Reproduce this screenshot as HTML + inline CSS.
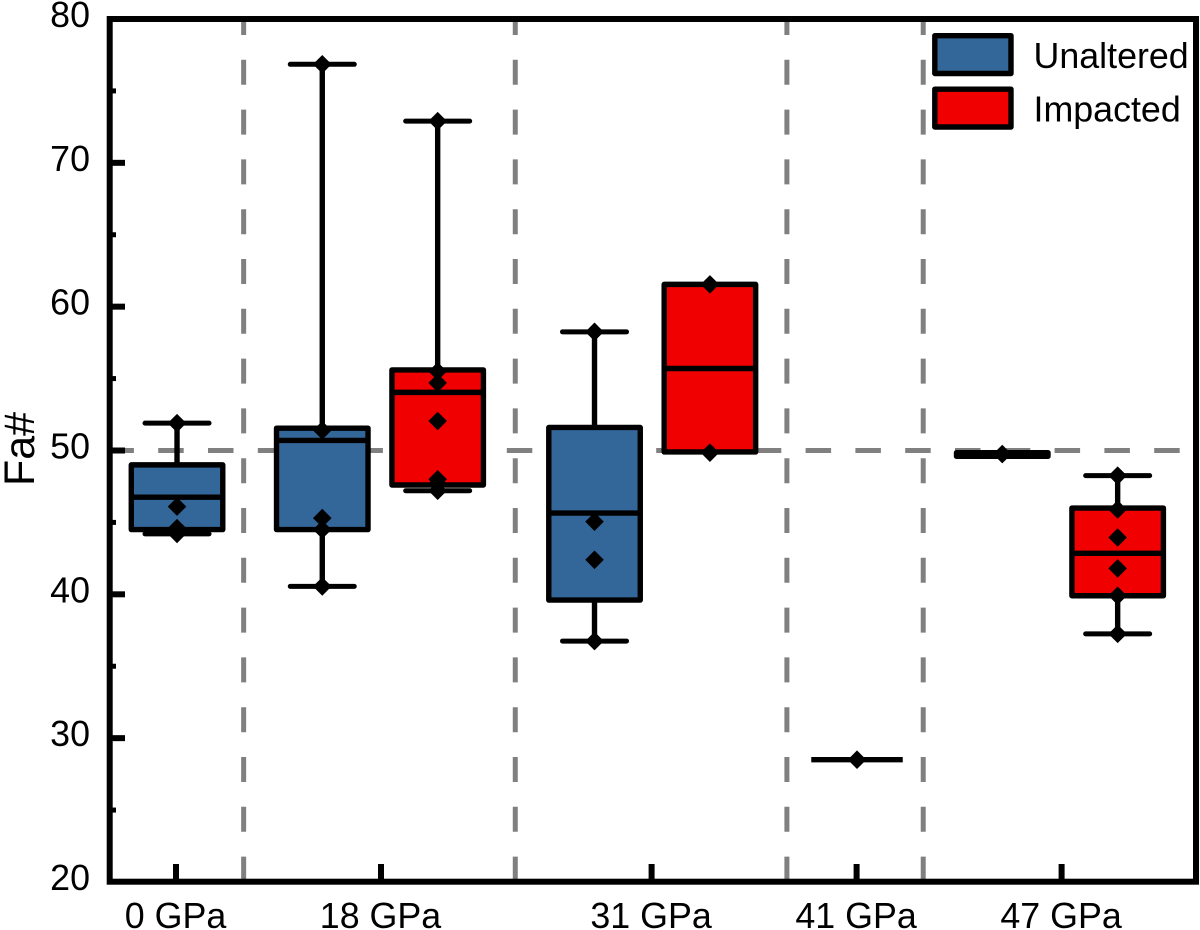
<!DOCTYPE html>
<html lang="en">
<head>
<meta charset="utf-8">
<title>Fa# by shock pressure</title>
<style>
html,body{margin:0;padding:0;background:#fff;}
svg{display:block;}
text{font-family:"Liberation Sans",Arial,sans-serif;fill:#000;}
</style>
</head>
<body>
<svg id="chart" xmlns="http://www.w3.org/2000/svg" width="1200" height="930" viewBox="0 0 1200 930"></svg>
<script>
// Categories and axis values
const categories = ['0 GPa', '18 GPa', '31 GPa', '41 GPa', '47 GPa'];
const categoryAxisValues = [1, 2, 3.32, 4.32, 5.32];
const boxCenterAxisValues = [1.005, 1.995, 3.323, 4.322, 5.312];
const separatorAxisValues = [1.33, 2.655, 3.98, 4.645];
const yTickLabels = [20, 30, 40, 50, 60, 70, 80];
const yMinorTicks = [25, 35, 45, 55, 65, 75];
const referenceLevel = 50;

// Unaltered series, one entry per category
const unalteredQ1 = [44.5, 44.5, 39.6, 28.5, 49.6];
const unalteredMedian = [46.75, 50.7, 45.65, 28.5, 49.7];
const unalteredQ3 = [49.0, 51.55, 51.6, 28.5, 49.85];
const unalteredLow = [44.2, 40.55, 36.75, 28.5, 49.6];
const unalteredHigh = [51.9, 76.85, 58.25, 28.5, 49.85];
const unalteredPoints = [
  [51.9, 46.1, 44.6, 44.2],
  [76.85, 51.4, 45.3, 44.5, 40.55],
  [58.25, 45.05, 42.4, 36.75],
  [28.5],
  [49.75]
];

// Impacted series; null where a category has no impacted samples
const impactedQ1 = [null, 47.6, 49.9, null, 39.9];
const impactedMedian = [null, 54.04, 55.7, null, 42.85];
const impactedQ3 = [null, 55.6, 61.55, null, 46.0];
const impactedLow = [null, 47.2, 49.9, null, 37.25];
const impactedHigh = [null, 72.9, 61.55, null, 48.25];
const impactedPoints = [
  null,
  [72.9, 55.5, 54.7, 52.05, 48.0, 47.7, 47.2],
  [61.55, 49.85],
  null,
  [48.25, 45.9, 43.95, 41.8, 39.9, 37.25]
];

const seriesNames = ['Unaltered', 'Impacted'];
const seriesColors = ['#336699', '#f00000'];

// Axis functions
const yScale = v => 19 + (80 - v) * 14.383;
const xScale = v => 176 + (v - 1) * 205;

const NS = 'http://www.w3.org/2000/svg';
const svg = document.getElementById('chart');
const LEFT = 109.7, RIGHT = 1196, TOP = 19, BOTTOM = 881.7;
const BOX_W = 91.5, CAP_W = 64, OFFSET = 57.7, FONT = 35.8, STROKE = 5.4;

function make(tag, attrs, parent) {
  const el = document.createElementNS(NS, tag);
  for (const k in attrs) el.setAttribute(k, attrs[k]);
  (parent || svg).appendChild(el);
  return el;
}
function line(x1, y1, x2, y2, stroke, width, parent, cap) {
  return make('line', {x1, y1, x2, y2, stroke, 'stroke-width': width, 'stroke-linecap': cap || 'butt'}, parent);
}

// Reference lines
const refLine = line(113, yScale(referenceLevel), 1193, yScale(referenceLevel), '#808080', 5);
refLine.setAttribute('stroke-dasharray', '25.5 24.3');
refLine.setAttribute('stroke-dashoffset', '4.6');



separatorAxisValues.forEach(v => {
  const s = line(xScale(v), 22, xScale(v), 879, '#808080', 5);
  s.setAttribute('stroke-dasharray', '25 24.8');
  s.setAttribute('stroke-dashoffset', '12');
  
  
});

// Boxes
function drawBox(cx, q1, med, q3, low, high, pts, color, name) {
  const g = make('g', {});
  
  
  const yHigh = yScale(high), yLow = yScale(low), yQ1 = yScale(q1), yQ3 = yScale(q3);
  line(cx, yHigh, cx, yQ3, '#000', STROKE, g);
  line(cx, yLow, cx, yQ1, '#000', STROKE, g);
  if (high > q3) line(cx - CAP_W / 2, yHigh, cx + CAP_W / 2, yHigh, '#000', 5, g, 'round');
  if (low < q1) line(cx - CAP_W / 2, yLow, cx + CAP_W / 2, yLow, '#000', 5, g, 'round');
  make('rect', {x: cx - BOX_W / 2, y: yQ3, width: BOX_W, height: yQ1 - yQ3, fill: color, stroke: '#000',
    'stroke-width': STROKE, 'stroke-linejoin': 'round'}, g);
  line(cx - BOX_W / 2, yScale(med), cx + BOX_W / 2, yScale(med), '#000', STROKE, g);
  pts.forEach(p => {
    const y = yScale(p), r = 9.3;
    make('polygon', {points: `${cx},${y - r} ${cx + r},${y} ${cx},${y + r} ${cx - r},${y}`, fill: '#000'}, g);
  });
}

categories.forEach((cat, i) => {
  const c = xScale(boxCenterAxisValues[i]);
  const both = impactedPoints[i] !== null && unalteredPoints[i] !== null;
  const slug = cat.replace(' ', '-').toLowerCase();
  if (unalteredPoints[i]) {
    drawBox(both ? c - OFFSET : c, unalteredQ1[i], unalteredMedian[i], unalteredQ3[i], unalteredLow[i],
      unalteredHigh[i], unalteredPoints[i], seriesColors[0], 'unaltered-box-' + slug);
  }
  if (impactedPoints[i]) {
    drawBox(both ? c + OFFSET : c, impactedQ1[i], impactedMedian[i], impactedQ3[i], impactedLow[i],
      impactedHigh[i], impactedPoints[i], seriesColors[1], 'impacted-box-' + slug);
  }
});

// Frame
const frame = make('rect', {x: LEFT, y: TOP, width: RIGHT - LEFT, height: BOTTOM - TOP, fill: 'none', stroke: '#000', 'stroke-width': 6});



// Y axis
const yAxis = make('g', {});


yTickLabels.forEach(v => {
  const y = yScale(v);
  if (v > 20 && v < 80) line(LEFT, y, 125, y, '#000', 6, yAxis);
  const t = make('text', {x: 90, y: y + 8, 'text-anchor': 'end', 'font-size': FONT}, yAxis);
  t.textContent = v;
  
  
});
yMinorTicks.forEach(v => line(LEFT, yScale(v), 116, yScale(v), '#000', 5, yAxis));

const yTitle = make('text', {transform: 'translate(34,486) rotate(-90)', 'font-size': 43});
yTitle.textContent = 'Fa#';



// X axis
const xAxis = make('g', {});


categories.forEach((cat, i) => {
  const x = xScale(categoryAxisValues[i]);
  line(x, 864, x, BOTTOM, '#000', 6, xAxis);
  const t = make('text', {x: x - 0.5, y: 928, 'text-anchor': 'middle', 'font-size': FONT}, xAxis);
  t.textContent = cat;
  
  
});

// Legend
const legend = make('g', {});


seriesNames.forEach((name, i) => {
  const dy = i * 53.5;
  const entry = make('g', {}, legend);
  
  
  make('rect', {x: 934.8, y: 35.7 + dy, width: 76.2, height: 37.8, fill: seriesColors[i], stroke: '#000',
    'stroke-width': STROKE, 'stroke-linejoin': 'round'}, entry);
  const t = make('text', {x: 1033.5, y: 68 + dy, 'font-size': FONT}, entry);
  t.textContent = name;
});
</script>
</body>
</html>
